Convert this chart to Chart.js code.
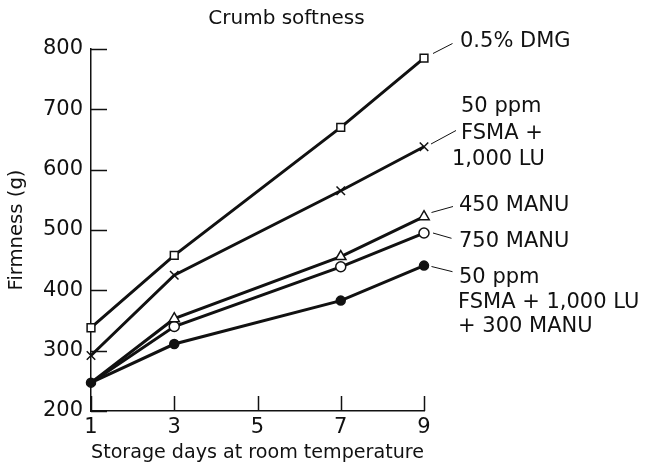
<!DOCTYPE html>
<html>
<head>
<meta charset="utf-8">
<script src="https://cdn.jsdelivr.net/npm/chart.js@4/dist/chart.umd.min.js"></script>
<style>
  html, body { margin: 0; padding: 0; background: #fff; }
  #wrap { width: 650px; height: 470px; }
</style>
</head>
<body>
<div id="wrap"><canvas id="c" width="650" height="470"></canvas></div>
<script>
// ---- data ----
const days = [1, 3, 7, 9];
const dmg = [338, 458, 670, 785];
const fsmaLu = [292, 425, 565, 638];
const manu450 = [247, 353, 456, 522];
const manu750 = [247, 340, 439, 495];
const fsmaLuManu = [247, 311, 383, 441];
const xTickValues = [1, 3, 5, 7, 9];
const yTickValues = [200, 300, 400, 500, 600, 700, 800];
const seriesNames = ["0.5% DMG", "50 ppm FSMA + 1,000 LU", "450 MANU", "750 MANU", "50 ppm FSMA + 1,000 LU + 300 MANU"];
const labelLines = [
  ["0.5% DMG"],
  ["50 ppm", "FSMA +", "1,000 LU"],
  ["450 MANU"],
  ["750 MANU"],
  ["50 ppm", "FSMA + 1,000 LU", "+ 300 MANU"]
];
const chartTitle = "Crumb softness";
const xTitle = "Storage days at room temperature";
const yTitle = "Firmness (g)";

const FONT = "'DejaVu Sans', sans-serif";
const INK = "#111111";

function pts(vals) { return days.map((d, i) => ({ x: d, y: vals[i] })); }

// label placement (text positions, leader lines)
const labelLayout = [
  { lines: [[460, 42]], leader: [[433, 53.5], [452.5, 43.5]] },
  { lines: [[461, 107], [461, 133.3], [452, 160]], leader: [[431, 144], [456, 130.5]] },
  { lines: [[459, 206]], leader: [[431.5, 212.5], [453, 206.5]] },
  { lines: [[459, 241.7]], leader: [[433, 233], [451.5, 238.3]] },
  { lines: [[459, 278], [458, 303], [458, 327]], leader: [[431.5, 266.5], [452.5, 271.7]] }
];

const annotPlugin = {
  id: 'annot',
  beforeDatasetsDraw(chart) {
    const ctx = chart.ctx;
    const xs = chart.scales.x, ys = chart.scales.y;
    const area = chart.chartArea;
    ctx.save();
    ctx.strokeStyle = INK;
    ctx.lineWidth = 1.5;
    ctx.beginPath();
    xs.ticks.forEach(t => {
      const px = Math.round(xs.getPixelForValue(t.value)) + 0.5;
      ctx.moveTo(px, area.bottom);
      ctx.lineTo(px, area.bottom - 15);
    });
    ys.ticks.forEach(t => {
      const py = Math.round(ys.getPixelForValue(t.value)) + 0.5;
      ctx.moveTo(area.left, py);
      ctx.lineTo(area.left + 16, py);
    });
    ctx.stroke();
    ctx.restore();
  },
  afterDatasetsDraw(chart) {
    const ctx = chart.ctx;
    ctx.save();
    ctx.fillStyle = INK;
    ctx.strokeStyle = INK;
    ctx.lineWidth = 1;
    ctx.font = "21px " + FONT;
    ctx.textAlign = 'left';
    ctx.textBaseline = 'middle';
    labelLayout.forEach((l, i) => {
      ctx.beginPath();
      ctx.moveTo(l.leader[0][0], l.leader[0][1]);
      ctx.lineTo(l.leader[1][0], l.leader[1][1]);
      ctx.stroke();
      labelLines[i].forEach((txt, j) => {
        ctx.fillText(txt, l.lines[j][0], l.lines[j][1]);
      });
    });
    ctx.restore();
  }
};

const common = { borderColor: INK, borderWidth: 3, pointBorderColor: INK, pointBorderWidth: 1.5, tension: 0, clip: false, pointHoverRadius: 0 };

new Chart(document.getElementById('c'), {
  type: 'line',
  data: {
    datasets: [
      Object.assign({}, common, { label: seriesNames[0], data: pts(dmg), pointStyle: 'rect', pointRadius: 5.5, pointBackgroundColor: '#fff', order: 1 }),
      Object.assign({}, common, { label: seriesNames[1], data: pts(fsmaLu), pointStyle: 'crossRot', pointRadius: 6, pointBackgroundColor: '#fff', order: 2 }),
      Object.assign({}, common, { label: seriesNames[2], data: pts(manu450), pointStyle: 'triangle', pointRadius: [0, 6, 6, 6], pointBackgroundColor: '#fff', order: 3 }),
      Object.assign({}, common, { label: seriesNames[3], data: pts(manu750), pointStyle: 'circle', pointRadius: [0, 5, 5, 5], pointBackgroundColor: '#fff', order: 4 }),
      Object.assign({}, common, { label: seriesNames[4], data: pts(fsmaLuManu), pointStyle: 'circle', pointRadius: 4.5, pointBackgroundColor: INK, order: 0 })
    ]
  },
  options: {
    responsive: false,
    animation: false,
    events: [],
    layout: { padding: { left: 0, right: 77, top: 0, bottom: 0 } },
    plugins: {
      legend: { display: false },
      tooltip: { enabled: false },
      title: {
        display: true,
        text: chartTitle,
        color: INK,
        font: { family: FONT, size: 20, weight: 'normal' },
        padding: { top: 7, bottom: 18 }
      }
    },
    scales: {
      x: {
        type: 'linear',
        min: 1, max: 9,
        afterBuildTicks: s => { s.ticks = xTickValues.map(v => ({ value: v })); },
        afterFit: s => { s.height = 59; },
        grid: { display: false, drawTicks: false, tickLength: 0 },
        border: { display: true, color: INK, width: 1.5 },
        ticks: { color: INK, padding: 4, maxRotation: 0, autoSkip: false, font: { family: FONT, size: 21 } },
        title: { display: true, text: xTitle, color: INK, font: { family: FONT, size: 19.6 }, padding: { top: 0, bottom: 5 } }
      },
      y: {
        type: 'linear',
        min: 200, max: 800,
        afterBuildTicks: s => { s.ticks = yTickValues.map(v => ({ value: v })); },
        afterFit: s => { s.width = 91; },
        grid: { display: false, drawTicks: false, tickLength: 0 },
        border: { display: true, color: INK, width: 1.5 },
        ticks: { color: INK, padding: 8, font: { family: FONT, size: 21 } },
        title: { display: true, text: yTitle, color: INK, font: { family: FONT, size: 19.6 }, padding: { top: 5.5, bottom: 0 } }
      },
      pad: {
        type: 'linear',
        position: 'right',
        display: true,
        afterFit: s => { s.width = 149; },
        grid: { display: false, drawTicks: false },
        border: { display: false },
        ticks: { display: false }
      }
    }
  },
  plugins: [annotPlugin]
});
</script>
</body>
</html>
